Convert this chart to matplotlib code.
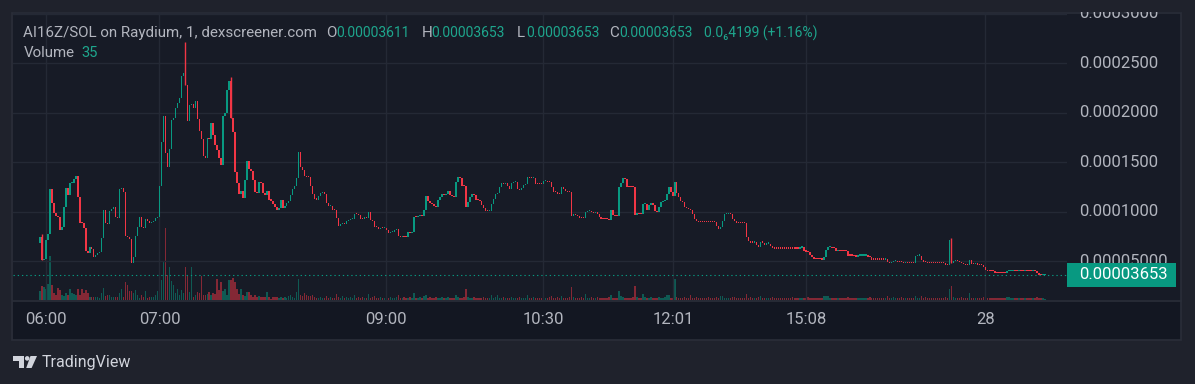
import numpy as np
import matplotlib
matplotlib.use("Agg")
import matplotlib.pyplot as plt
from matplotlib.patches import Rectangle, Polygon, Circle
from matplotlib.transforms import blended_transform_factory

plt.rcParams["font.family"] = ["Roboto", "DejaVu Sans"]

# ── data (prices in units of 1e-5 SOL, one candle per traded minute) ─────────
S = 1e-5
first_open = 6.84
closes = [
    7.44, 5.15, 5.3, 7.17, 7.78, 12.29, 10.91, 9.90, 9.60, 9.5,
    8.18, 8.5, 10.51, 12.42, 11.72, 12.93, 12.95, 13.33, 13.64, 11.52,
    8.89, 8.85, 8.38, 6.06, 5.86, 6.46, 6.3, 5.5, 5.7, 5.85,
    5.95, 7.37, 10.2, 8.89, 8.79, 10.1, 10.3, 10.51, 9.49, 9.4,
    12.32, 12.45, 12.02, 7.58, 7.47, 7.27, 4.85, 5.45, 7.58, 8.48,
    9.5, 8.5, 8.4, 9.3, 9.1, 8.85, 9.0, 9.1, 9.35, 9.5,
    12.63, 17.07, 19.7, 16.0, 14.55, 16.4, 19.29, 19.5, 20.5, 21.0,
    21.5, 23.7, 24.0, 22.83, 19.2, 20.8, 20.9, 20.5, 21.2, 19.4,
    18.18, 17.4, 15.66, 15.5, 17.47, 17.4, 18.99, 17.78, 16.77, 16.26,
    15.45, 14.75, 19.7, 20.0, 22.32, 23.23, 19.49, 18.08, 14.04, 12.93,
    11.82, 12.1, 11.41, 13.2, 15.15, 14.3, 14.1, 13.2, 12.0, 11.9,
    13.0, 12.95, 11.9, 11.75, 12.1, 11.2, 11.15, 10.8, 10.5, 10.2,
    10.4, 11.2, 10.4, 10.6, 10.9, 11.1, 11.7, 12.3, 12.6, 13.4,
    16.06, 14.55, 14.2, 13.6, 13.55, 13.5, 12.6, 11.8, 11.3, 11.25,
    11.6, 11.9, 11.9, 11.85, 10.9, 10.6, 10.65, 10.2, 10.2, 9.4,
    8.6, 8.8, 8.8, 8.75, 9.1, 9.2, 9.3, 9.3, 9.8, 9.75,
    9.7, 9.3, 9.3, 9.5, 9.35, 10.0, 9.2, 9.1, 8.5, 8.45,
    8.3, 8.4, 8.35, 8.4, 8.2, 7.9, 7.95, 8.0, 8.2, 8.25,
    7.6, 7.5, 7.55, 7.45, 7.45, 8.0, 7.9, 8.0, 9.5, 9.45,
    9.55, 9.7, 9.6, 10.2, 11.6, 11.1, 10.9, 10.8, 10.6, 10.5,
    11.2, 11.5, 11.8, 11.7, 11.8, 12.1, 11.7, 11.6, 11.5, 13.0,
    13.5, 13.45, 12.65, 12.6, 10.5, 11.0, 11.5, 11.8, 11.7, 11.2,
    11.2, 11.1, 10.7, 10.4, 10.1, 10.1, 10.15, 10.8, 11.3, 11.8,
    11.9, 12.5, 12.9, 12.8, 12.9, 12.6, 12.3, 12.9, 13.0, 13.0,
    12.3, 12.2, 12.4, 12.7, 12.8, 13.5, 13.4, 13.4, 13.45, 12.8,
    12.8, 12.8, 12.8, 13.1, 13.1, 13.0, 13.0, 12.5, 12.0, 12.0,
    11.8, 11.8, 12.5, 12.3, 12.1, 12.0, 12.0, 9.6, 9.8, 9.7,
    9.6, 9.4, 9.4, 9.35, 10.0, 10.1, 10.1, 10.0, 9.9, 10.0,
    9.8, 9.5, 9.3, 9.3, 9.3, 9.3, 9.2, 10.2, 9.7, 9.6,
    9.55, 12.5, 12.9, 13.4, 13.3, 12.5, 12.5, 12.5, 12.5, 9.7,
    9.9, 9.8, 9.8, 10.8, 10.8, 10.2, 10.7, 10.9, 10.7, 10.1,
    10.0, 10.5, 11.0, 11.1, 11.2, 11.8, 12.5, 12.0, 11.6, 13.0,
    11.9, 11.5, 11.1, 11.0, 10.5, 10.4, 10.3, 10.2, 9.8, 9.3,
    9.1, 9.0, 9.0, 9.0, 9.0, 9.0, 9.0, 9.0, 9.0, 8.95,
    8.6, 8.3, 8.5, 9.1, 9.8, 9.8, 9.8, 9.75, 9.3, 9.1,
    8.85, 8.85, 8.85, 8.85, 8.85, 7.5, 7.1, 6.9, 6.9, 6.95,
    6.7, 6.5, 6.95, 6.9, 6.7, 6.8, 6.8, 6.6, 6.35, 6.3,
    6.3, 6.3, 6.3, 6.3, 6.3, 6.3, 6.3, 6.3, 6.3, 6.3,
    6.3, 6.3, 6.4, 6.45, 6.05, 6.0, 5.95, 5.7, 5.5, 5.3,
    5.25, 5.25, 5.25, 5.2, 5.5, 6.15, 6.45, 6.5, 6.35, 6.35,
    6.05, 6.1, 6.05, 6.05, 6.05, 6.05, 5.6, 5.6, 5.6, 5.55,
    5.5, 5.6, 5.6, 5.6, 5.6, 5.6, 5.5, 5.45, 5.2, 5.2,
    5.2, 5.2, 5.2, 5.2, 5.2, 5.3, 4.9, 4.85, 4.95, 5.0,
    5.0, 4.95, 4.95, 4.9, 4.85, 4.9, 4.85, 4.85, 4.85, 4.8,
    5.55, 5.6, 5.6, 5.15, 4.9, 4.9, 4.85, 4.8, 4.8, 4.8,
    4.8, 4.8, 4.8, 4.8, 4.8, 4.62, 4.6, 7.17, 4.8, 5.05,
    5.1, 5.0, 4.95, 4.85, 4.7, 4.6, 4.6, 5.2, 4.7, 4.7,
    4.8, 4.6, 4.6, 4.6, 4.4, 4.1, 4.05, 4.0, 4.0, 4.0,
    3.85, 3.85, 3.85, 3.85, 3.85, 3.85, 4.0, 4.05, 4.05, 4.1,
    4.05, 4.05, 4.1, 4.05, 4.05, 4.1, 4.05, 4.05, 4.05, 4.1,
    4.05, 3.85, 3.6, 3.6, 3.611, 3.653,
]
volumes = [
    9, 14, 13, 11, 16, 44, 15, 7, 5, 12, 10, 5, 4, 7, 5, 11, 7, 6, 5, 11,
    5, 11, 7, 10, 7, 3, 3, 3, 3, 3, 2, 7, 12, 4, 5, 5, 3, 3, 3, 3,
    7, 11, 3, 18, 15, 9, 9, 7, 10, 5, 2, 5, 3, 9, 2, 3, 3, 3, 5, 9,
    13, 20, 39, 72, 25, 33, 19, 15, 7, 11, 5, 10, 7, 33, 24, 8, 33, 3, 5, 8,
    7, 24, 5, 5, 6, 8, 5, 7, 6, 21, 10, 18, 9, 11, 5, 20, 20, 22, 18, 11,
    6, 11, 5, 4, 8, 8, 5, 3, 5, 3, 4, 3, 3, 3, 8, 3, 1, 3, 3, 3,
    2, 3, 2, 3, 2, 4, 5, 3, 2, 8, 21, 5, 4, 7, 5, 4, 4, 5, 3, 2, 2,
    3, 2, 2, 4, 2, 3, 2, 2, 6, 3, 2, 4, 2, 3, 2, 3, 2, 5, 2, 3,
    2, 3, 2, 2, 6, 2, 3, 4, 2, 2, 3, 2, 2, 3, 2, 3, 2, 2, 3, 5,
    2, 2, 3, 2, 2, 3, 2, 7, 2, 2, 3, 2, 4, 5, 2, 3, 2, 2, 3, 2,
    2, 3, 2, 2, 3, 2, 2, 2, 5, 3, 2, 2, 3, 11, 3, 2, 2, 3, 2, 2,
    2, 2, 3, 2, 2, 2, 5, 2, 3, 5, 2, 2, 3, 2, 2, 2, 3, 2, 2, 2,
    3, 2, 2, 2, 5, 2, 2, 3, 2, 2, 2, 2, 3, 2, 2, 3, 4, 2, 2, 3,
    2, 4, 2, 2, 2, 3, 13, 3, 2, 2, 2, 3, 2, 6, 2, 2, 3, 2, 2, 3,
    2, 2, 2, 2, 2, 3, 5, 2, 2, 2, 9, 4, 3, 2, 2, 2, 2, 3, 14, 3,
    2, 2, 6, 3, 2, 2, 3, 2, 2, 2, 3, 2, 2, 3, 5, 5, 2, 2, 21, 3,
    2, 2, 2, 3, 2, 2, 5, 2, 2, 3, 2, 2, 2, 2, 2, 3, 2, 2, 2, 3,
    2, 4, 4, 2, 2, 2, 2, 3, 3, 2, 2, 2, 2, 2, 6, 2, 3, 2, 2, 2,
    3, 4, 2, 2, 2, 2, 2, 3, 2, 2, 2, 2, 2, 2, 2, 2, 2, 3, 2, 2,
    2, 2, 2, 2, 2, 3, 2, 2, 2, 2, 2, 2, 2, 4, 4, 4, 2, 2, 2, 2,
    2, 2, 2, 2, 2, 3, 2, 2, 2, 2, 2, 2, 2, 2, 2, 2, 3, 2, 2, 2,
    2, 2, 2, 2, 2, 4, 2, 2, 3, 2, 2, 2, 3, 2, 2, 2, 2, 2, 2, 4,
    2, 2, 4, 2, 3, 2, 2, 2, 2, 2, 2, 2, 2, 2, 3, 2, 11, 14, 3, 2,
    2, 2, 3, 2, 2, 2, 7, 2, 2, 2, 2, 2, 2, 3, 2, 2, 2, 2, 2, 2,
    2, 2, 2, 2, 2, 3, 3, 2, 2, 2, 2, 2, 2, 2, 2, 2, 2, 2, 2, 2,
    3, 2, 2, 2, 1,
]
spike_idx = [1, 73, 96, 458]
spike_high = [7.8, 27.2, 23.6, 7.4]

time_ticks = [3, 60, 174, 253, 318, 385, 475]
time_labels = ["06:00", "07:00", "09:00", "10:30", "12:01", "15:08", "28"]
price_ticks = [5, 10, 15, 20, 25, 30]
price_labels = ["0.00005000", "0.0001000", "0.0001500", "0.0002000",
                "0.0002500", "0.0003000"]
last_price = 3.653

# ── style ────────────────────────────────────────────────────────────────────
OUTER  = "#1f222c"
PANE   = "#171b26"
AXBAND = "#131722"
GRID   = "#242935"
BORDER = "#2a2e39"
UP     = "#089981"
DOWN   = "#f23645"
TXT    = "#b2b5be"
VAL    = "#1ea68d"
W, H   = 1195, 384

n = len(closes)
assert len(volumes) == n, (len(volumes), n)
c = np.array(closes)
o = np.concatenate([[first_open], c[:-1]])
idx = np.arange(n)

colors = []
prev = UP
for oo, cc in zip(o, c):
    if cc > oo:
        prev = UP
    elif cc < oo:
        prev = DOWN
    colors.append(prev)

body_lo = np.minimum(o, c)
body_hi = np.maximum(o, c)


def rect(x0, y0, x1, y1):
    """pixel box -> figure fraction"""
    return [x0 / W, 1 - y1 / H, (x1 - x0) / W, (y1 - y0) / H]


fig = plt.figure(figsize=(W / 100, H / 100), dpi=100)
fig.patch.set_facecolor(OUTER)

# backgrounds & frame (pixel coordinates)
bg = fig.add_axes([0, 0, 1, 1], zorder=0)
bg.set_xlim(0, W); bg.set_ylim(H, 0); bg.axis("off")
bg.add_patch(Rectangle((13, 12), 1168, 288, fc=PANE, ec="none"))
bg.add_patch(Rectangle((13, 300), 1168, 39.5, fc=AXBAND, ec="none"))
bg.add_patch(Rectangle((12.5, 12.5), 1169, 327, fc="none", ec=BORDER, lw=1.2))
bg.plot([13, 1181], [300.5, 300.5], color=BORDER, lw=1.2)

XL = (-13.6, 516.1)
YL = (1.11 * S, 30.2 * S)

# volume pane (1 unit ~ 1 px)
axv = fig.add_axes(rect(13, 12, 1067, 300), zorder=1)
axv.patch.set_alpha(0); axv.axis("off")
axv.set_xlim(*XL); axv.set_ylim(0, 288)
axv.bar(idx, volumes, width=0.7, color=colors, alpha=0.5, linewidth=0)

# price pane
ax = fig.add_axes(rect(13, 12, 1067, 300), zorder=2)
ax.patch.set_alpha(0)
for sp in ax.spines.values():
    sp.set_visible(False)
ax.set_xlim(*XL); ax.set_ylim(*YL)
ax.set_xticks([]); ax.set_yticks([])
for t in price_ticks:
    ax.axhline(t * S, color=GRID, lw=1, zorder=0)
for t in time_ticks:
    ax.axvline(t, color=GRID, lw=1, zorder=0)

# wicks for the few candles that have visible extremes
for i, hval in zip(spike_idx, spike_high):
    ax.vlines(i, body_lo[i] * S, hval * S, color=colors[i], lw=1.0)
ax.bar(idx, np.maximum(body_hi - body_lo, 0.12) * S, bottom=body_lo * S,
       width=0.7, color=colors, linewidth=0)
ax.axhline(last_price * S, color=UP, lw=0.8, ls=(0, (1.2, 2.6)))

# price scale
axp = fig.add_axes(rect(1067, 12, 1181, 300), zorder=2)
axp.patch.set_alpha(0); axp.axis("off")
axp.set_xlim(1067, 1181); axp.set_ylim(*YL)
for t, lab in zip(price_ticks, price_labels):
    axp.text(1079, t * S, lab, color=TXT, fontsize=12, va="center",
             ha="left", clip_on=True)
half = 12.2 / 9.9 * S
axp.add_patch(Rectangle((1067, last_price * S - half), 109, 2 * half,
                        fc=UP, ec="none", zorder=3))
axp.text(1079, last_price * S, "0.00003653", color="white", fontsize=12,
         va="center", ha="left", zorder=4)

# overlay: header, time labels, logo
top = fig.add_axes([0, 0, 1, 1], zorder=5)
top.set_xlim(0, W); top.set_ylim(H, 0); top.axis("off")

hdr = [
    (23.3, "AI16Z/SOL on Raydium, 1, dexscreener.com", TXT, 10.9),
    (326, "O", TXT, 10.9), (336.7, "0.00003611", VAL, 10),
    (421.7, "H", TXT, 10.9), (431.7, "0.00003653", VAL, 10),
    (516.7, "L", TXT, 10.9), (526.5, "0.00003653", VAL, 10),
    (609.3, "C", TXT, 10.9), (619, "0.00003653", VAL, 10),
    (704, "0.0\u20864199 (+1.16%)", VAL, 10),
]
for x, s, col, fs in hdr:
    top.text(x, 33.3, s, color=col, fontsize=fs, va="center", ha="left")
top.text(23.3, 53.3, "Volume", color=TXT, fontsize=10.9, va="center", ha="left")
top.text(81.7, 53.3, "35", color=VAL, fontsize=10.5, va="center", ha="left")

tr = blended_transform_factory(ax.transData, top.transData)
for t, lab in zip(time_ticks, time_labels):
    top.text(t, 320, lab, transform=tr, color=TXT, fontsize=12,
             ha="center", va="center")

LOGO = "#d1d4dc"
top.add_patch(Polygon([(13.5, 356), (24, 356), (24, 368), (19.3, 368),
                       (19.3, 360.6), (13.5, 360.6)], closed=True,
                      fc=LOGO, ec="none"))
top.add_patch(Circle((27.2, 358.4), 2.3, fc=LOGO, ec="none"))
top.add_patch(Polygon([(30.5, 356), (37, 356), (31.6, 368), (26.2, 368)],
                      closed=True, fc=LOGO, ec="none"))
top.text(42, 362, "TradingView", color=LOGO, fontsize=11.5, va="center",
         ha="left")

fig.savefig("out.png", dpi=100, facecolor=OUTER)
